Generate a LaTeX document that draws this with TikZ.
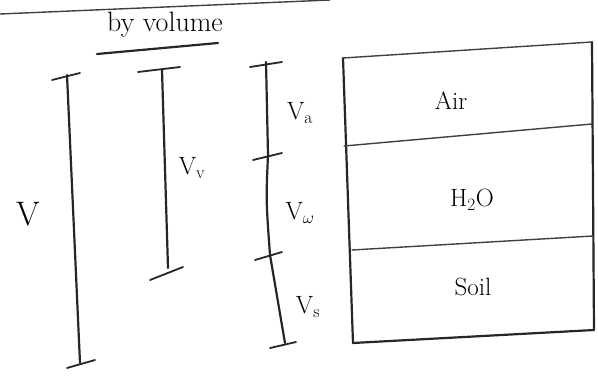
\documentclass[tikz,border=0pt]{standalone}
\usepackage{fontspec}
\begin{document}
\begin{tikzpicture}[x=1pt,y=-1pt,
  ink/.style={line width=2.2pt,line cap=round,black!85},
  thin ink/.style={line width=1.4pt,line cap=round,black!75},
  lbl/.style={font=\fontsize{25}{25}\selectfont,inner sep=0pt},
  tick/.style={line width=1.8pt,line cap=round,black!85}]
\useasboundingbox (0,0) rectangle (598,378);
% top header line
\coordinate (h1) at (0,14); \coordinate (h2) at (330,0);
\draw[thin ink] (h1) -- (h2);
\node[font=\fontsize{28}{28}\selectfont,inner sep=0pt] (title) at (165,25) {by volume};
\coordinate (u1) at (97,54); \coordinate (u2) at (218,43);
\draw[ink] (u1) -- (u2);
% V bar
\coordinate (V1) at (67,75); \coordinate (V2) at (80,363);
\draw[ink] (V1) -- (V2);
\draw[tick] (52,80) -- (80,73);
\draw[tick] (67,368) -- (95,360);
\node[lbl,font=\fontsize{34}{34}\selectfont] (Vl) at (28,214) {V};
% Vv bar
\coordinate (Vv1) at (162,70); \coordinate (Vv2) at (168,268);
\draw[ink] (Vv1) -- (Vv2);
\draw[tick] (138,72) -- (180,67);
\draw[tick] (150,280) -- (183,267);
\node[lbl] (Vvl) at (192,168) {V$_{\mathrm{v}}$};
% third bar
\coordinate (T1) at (266,62); \coordinate (T2) at (268,155);
\coordinate (T3) at (270,255); \coordinate (T4) at (285,343);
\draw[ink] (T1) -- (T2) .. controls (266,200) .. (T3) -- (T4);
\draw[tick] (250,67) -- (282,62);
\draw[tick] (253,160) -- (282,153);
\draw[tick] (255,260) -- (282,252);
\draw[tick] (270,348) -- (296,342);
\node[lbl] (Val) at (300,113) {V$_{\mathrm{a}}$};
\node[lbl] (Vwl) at (300,213) {V$_{\omega}$};
\node[lbl] (Vsl) at (308,307) {V$_{\mathrm{s}}$};
% box
\coordinate (b1) at (343,58); \coordinate (b2) at (592,42);
\coordinate (b3) at (594,330); \coordinate (b4) at (353,343);
\draw[ink] (b2) -- (b3);
\draw[ink] (b1) -- (b4);
\draw[thin ink] (b1) -- (b2);
\draw[ink] (b4) -- (b3);
\coordinate (d1) at (344,146); \coordinate (d2) at (592,124);
\coordinate (d3) at (352,250); \coordinate (d4) at (593,236);
\draw[thin ink] (d1) -- (d2);
\draw[thin ink] (d3) -- (d4);
\node[lbl] (air) at (451,101) {Air};
\node[lbl] (water) at (472,200) {H$_2$O};
\node[lbl] (soil) at (473,287) {Soil};
\end{tikzpicture}
\end{document}
